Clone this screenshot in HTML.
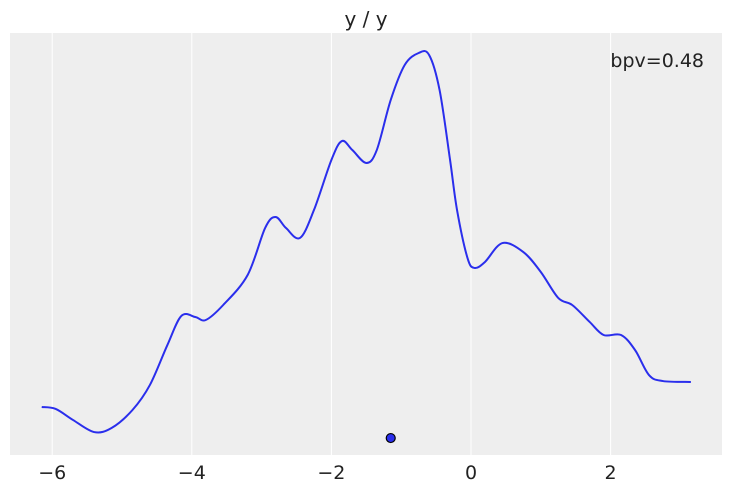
<!DOCTYPE html>
<html><head><meta charset="utf-8"><style>
html,body{margin:0;padding:0;background:#fff;}
svg{display:block;font-family:"DejaVu Sans","Liberation Sans",sans-serif;}
</style></head><body>
<svg id="chart" width="731" height="491" viewBox="0 0 731 491">
<rect x="10" y="33" width="712" height="422" fill="#eeeeee"/>
<g id="grid"></g>
<g id="ticks"></g>
<path id="kde" fill="none" stroke="#2a2eec" stroke-width="2"/>
<circle id="dot" r="4.5" fill="#2a2eec" stroke="#000" stroke-width="1.2"/>
<text x="366" y="26" text-anchor="middle" font-size="20" fill="#222">y / y</text>
<text x="704" y="67" text-anchor="end" font-size="19" fill="#222">bpv=0.48</text>
</svg>
<script>
const xs=[-6.15,-5.95,-5.7,-5.4,-5.15,-4.85,-4.6,-4.35,-4.15,-3.95,-3.8,-3.55,-3.2,-2.95,-2.8,-2.65,-2.45,-2.25,-2.0,-1.85,-1.7,-1.5,-1.35,-1.15,-0.95,-0.75,-0.6,-0.45,-0.3,-0.2,-0.05,0.05,0.2,0.45,0.75,1.0,1.25,1.45,1.7,1.9,2.15,2.35,2.55,2.75,3.15];
const density=[0.026,0.0247,0.0173,0.0093,0.012,0.024,0.0407,0.0673,0.0867,0.086,0.084,0.094,0.114,0.1453,0.1527,0.1453,0.1387,0.1573,0.1907,0.2033,0.1973,0.1887,0.1973,0.2307,0.254,0.262,0.2607,0.2373,0.1907,0.1573,0.1253,0.1187,0.1227,0.1353,0.1293,0.116,0.0987,0.094,0.0827,0.074,0.074,0.064,0.0473,0.0433,0.0427];
const pointX=[-1.15];
const pointY=[0.0053];
const tickValues=[-6,-4,-2,0,2];
const tickLabels=["\u22126","\u22124","\u22122","0","2"];
const NS="http://www.w3.org/2000/svg";
const sx=v=>471+69.8*v;
const sy=d=>446-1500*d;
const grid=document.getElementById('grid'),ticks=document.getElementById('ticks');
tickValues.forEach((v,i)=>{
  const l=document.createElementNS(NS,'line');
  l.setAttribute('x1',sx(v));l.setAttribute('x2',sx(v));l.setAttribute('y1',33);l.setAttribute('y2',455);
  l.setAttribute('stroke','#fff');l.setAttribute('stroke-width','1');
  
  
  grid.appendChild(l);
  const t=document.createElementNS(NS,'text');
  t.setAttribute('x',sx(v));t.setAttribute('y',479);t.setAttribute('text-anchor','middle');
  t.setAttribute('font-size','19');t.setAttribute('fill','#222');
  t.textContent=tickLabels[i];
  
  
  ticks.appendChild(t);
});
const P=xs.map((x,i)=>[sx(x),sy(density[i])]);
let d='M'+P[0][0]+','+P[0][1];
for(let i=0;i<P.length-1;i++){
  const p0=P[Math.max(i-1,0)],p1=P[i],p2=P[i+1],p3=P[Math.min(i+2,P.length-1)];
  const c1=[p1[0]+(p2[0]-p0[0])/6,p1[1]+(p2[1]-p0[1])/6];
  const c2=[p2[0]-(p3[0]-p1[0])/6,p2[1]-(p3[1]-p1[1])/6];
  d+=' C'+c1[0]+','+c1[1]+' '+c2[0]+','+c2[1]+' '+p2[0]+','+p2[1];
}
document.getElementById('kde').setAttribute('d',d);
const dot=document.getElementById('dot');
dot.setAttribute('cx',sx(pointX[0]));dot.setAttribute('cy',sy(pointY[0]));
</script>
</body></html>
